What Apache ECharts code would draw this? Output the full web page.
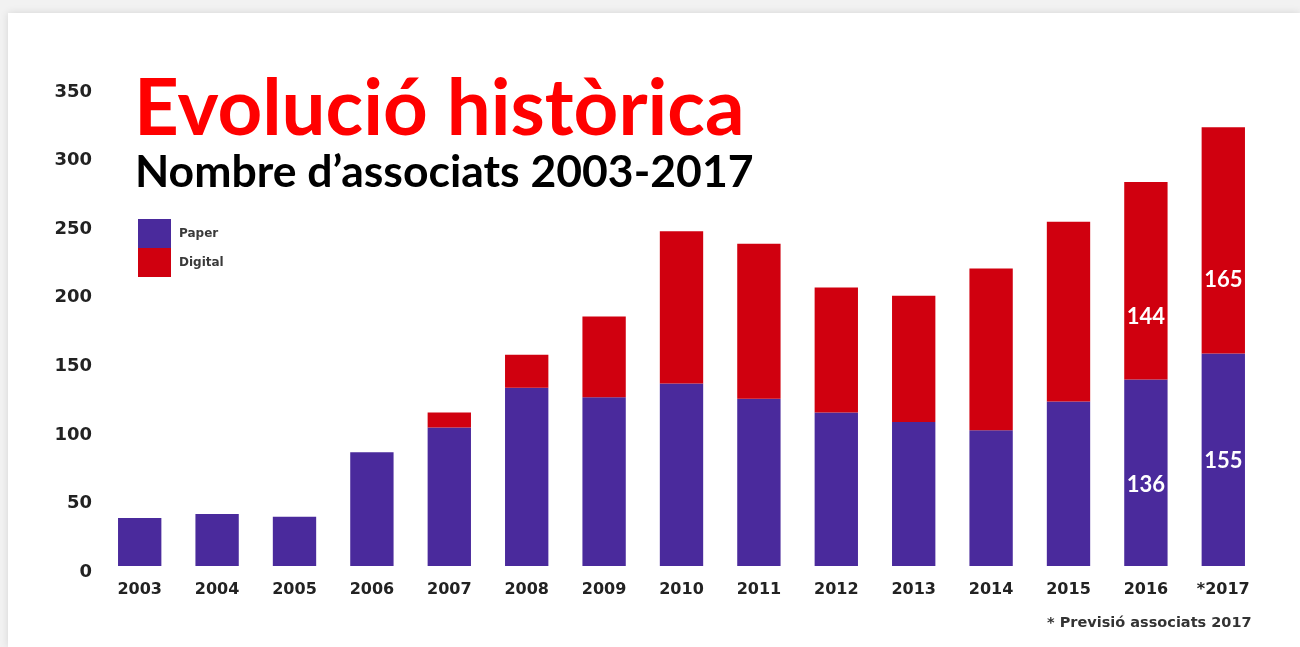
<!DOCTYPE html>
<html>
<head>
<meta charset="utf-8">
<script src="https://cdn.jsdelivr.net/npm/echarts@6/dist/echarts.min.js"></script>
<style>
html,body{margin:0;padding:0;background:#f2f2f2;}
#frame{position:absolute;left:8px;top:13px;width:1292px;height:634px;background:#fff;box-shadow:0 0 8px rgba(0,0,0,0.12);}
#chart{position:absolute;left:0;top:0;width:1300px;height:647px;}
</style>
</head>
<body>
<div id="frame"></div>
<div id="chart"></div>
<script>
const categories = ['2003','2004','2005','2006','2007','2008','2009','2010','2011','2012','2013','2014','2015','2016','*2017'];
const paper   = [35, 38, 36, 83, 101, 130, 123, 133, 122, 112, 105, 99, 120, 136, 155];
const digital = [0, 0, 0, 0, 11, 24, 59, 111, 113, 91, 92, 118, 131, 144, 165];
const labelledCategories = ['2016', '*2017'];
const yTicks = [0, 50, 100, 150, 200, 250, 300, 350];
const titleText = 'Evolució històrica';
const subtitleText = 'Nombre d\u2019associats 2003-2017';
const footnoteText = '* Previsió associats 2017';

const labelOffsetPaper = {'2016': 12, '*2017': 1};
const labelOffsetDigital = {'2016': 36, '*2017': 40};

function buildData(values, offsets) {
  return values.map((v, i) => {
    const c = categories[i];
    if (labelledCategories.indexOf(c) >= 0) {
      return {value: v, label: {show: true, offset: [0, offsets[c]]}};
    }
    return v;
  });
}

const chart = echarts.init(document.getElementById('chart'), null, {renderer: 'canvas'});
const option = {
  animation: false,
  backgroundColor: 'transparent',
  title: [
    {text: titleText, left: 129, top: 64,
     textStyle: {fontFamily: 'Lato', fontWeight: 'bold', fontSize: 78, color: '#ff0000', lineHeight: 82}},
    {text: subtitleText, left: 130, top: 144,
     textStyle: {fontFamily: 'Lato', fontWeight: 'bold', fontSize: 44.5, color: '#000', lineHeight: 48}},
    {text: footnoteText, left: 1042, top: 611,
     textStyle: {fontFamily: 'DejaVu Sans', fontWeight: 'bold', fontSize: 14.5, color: '#333'}}
  ],
  legend: {
    orient: 'vertical', left: 133, top: 214,
    itemWidth: 33, itemHeight: 29, itemGap: 0,
    icon: 'rect',
    textStyle: {fontFamily: 'DejaVu Sans', fontWeight: 'bold', fontSize: 12, color: '#3a3a3a', padding: [0, 0, 0, 3]},
    data: ['Paper', 'Digital']
  },
  grid: {left: 101, right: 38, top: 86, bottom: 81, containLabel: false},
  xAxis: {
    type: 'category', data: categories,
    axisLine: {show: false}, axisTick: {show: false},
    axisLabel: {fontFamily: 'DejaVu Sans', fontWeight: 'bold', fontSize: 16, color: '#222', margin: 16}
  },
  yAxis: {
    type: 'value', min: yTicks[0], max: yTicks[yTicks.length - 1], interval: 50,
    axisLine: {show: false}, axisTick: {show: false}, splitLine: {show: false},
    axisLabel: {
      margin: 9,
      formatter: '{a|{value}}',
      rich: {a: {fontFamily: 'DejaVu Sans', fontWeight: 'bold', fontSize: 18, color: '#222', padding: [12, 0, 0, 0]}}
    }
  },
  series: [
    {name: 'Paper', type: 'bar', stack: 'total', barWidth: '56%',
     itemStyle: {color: '#4a2a9c'},
     label: {show: false, position: 'inside', color: '#fff', fontFamily: 'Lato', fontWeight: 'bold', fontSize: 22},
     data: buildData(paper, labelOffsetPaper)},
    {name: 'Digital', type: 'bar', stack: 'total', barWidth: '56%',
     itemStyle: {color: '#d0000f'},
     label: {show: false, position: 'inside', color: '#fff', fontFamily: 'Lato', fontWeight: 'bold', fontSize: 22},
     data: buildData(digital, labelOffsetDigital)}
  ]
};
chart.setOption(option);
</script>
</body>
</html>
